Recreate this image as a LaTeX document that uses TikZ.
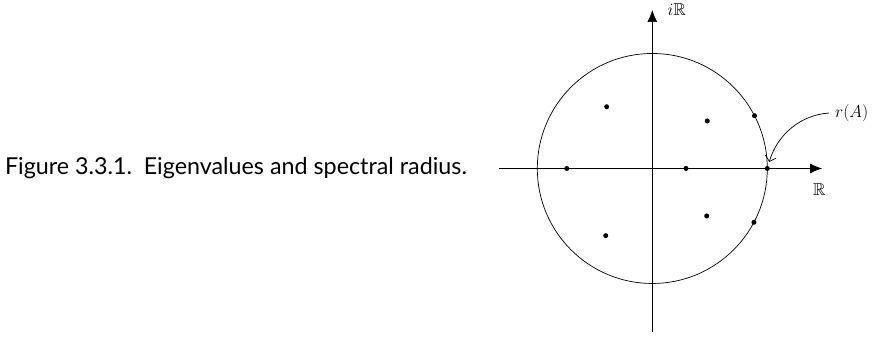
\documentclass[tikz,border=0pt]{standalone}
\usepackage{fontspec}
\setmainfont{Lato}
\usepackage{amsmath,amssymb}
\usetikzlibrary{arrows.meta,calc,positioning}

\tikzset{
  eigdot/.style={circle,fill=black,inner sep=0pt,minimum size=5pt},
  axislab/.style={font=\fontsize{17.28}{20}\selectfont,inner sep=0pt},
}

\begin{document}
\begin{tikzpicture}[>=Stealth,x=115pt,y=115pt,line width=0.7pt]
  \useasboundingbox (-5.672,-1.457) rectangle (1.919,1.465);
  % axes and spectral circle
  \coordinate (O) at (0,0);
  \coordinate (xL) at (-1.333,0);
  \coordinate (xR) at (1.476,0);
  \coordinate (yB) at (0,-1.422);
  \coordinate (yT) at (0,1.378);
  \draw[-{Latex[length=12pt,width=10pt]}] (xL) -- (xR);
  \draw[-{Latex[length=12pt,width=10pt]}] (yB) -- (yT);
  \draw (O) circle (1);
  \node[axislab] (iR) at (0.212,1.378) {$i\mathbb{R}$};
  \node[axislab] (R) at (1.452,-0.187) {$\mathbb{R}$};
  \node[axislab] (rA) at (1.734,0.485) {$r(A)$};
  % eigenvalues
  \node[eigdot] (ev1) at (-0.397,0.537) {};
  \node[eigdot] (ev2) at (0.478,0.413) {};
  \node[eigdot] (ev3) at (27.3:1) {};
  \node[eigdot] (ev4) at (-0.744,0) {};
  \node[eigdot] (ev5) at (0.293,0) {};
  \node[eigdot] (ev6) at (0:1) {};
  \node[eigdot] (ev7) at (0.473,-0.413) {};
  \node[eigdot] (ev8) at (-27.9:1) {};
  \node[eigdot] (ev9) at (-0.405,-0.584) {};
  \draw[-{Straight Barb[length=5pt,width=11pt]},line width=0.7pt,
        shorten <=6pt,shorten >=4pt]
    (rA.west) to[bend right=35] (ev6);
  % caption
  \node[font=\fontsize{23.3}{27}\selectfont,inner sep=0pt] (cap) at (-3.62,0)
    {Figure 3.3.1.\hspace{0.5em}Eigenvalues and spectral radius.};
\end{tikzpicture}
\end{document}
